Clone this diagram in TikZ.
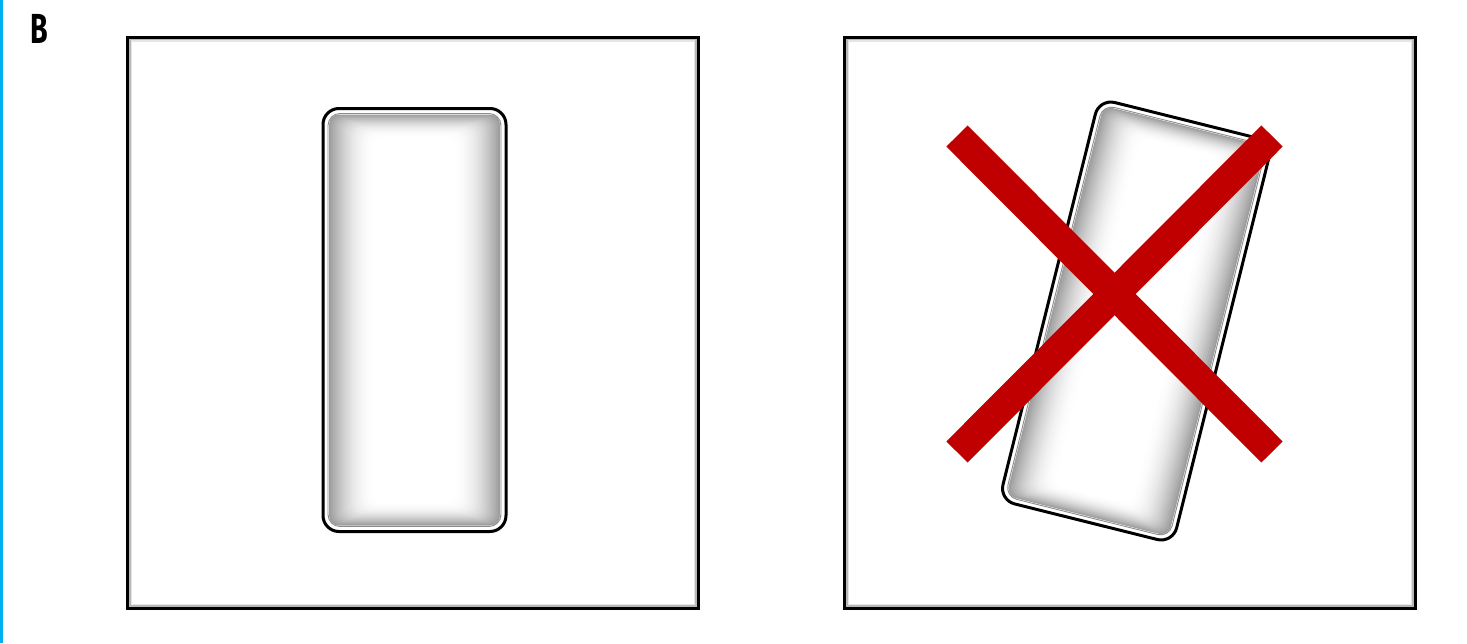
\documentclass[tikz,border=0pt]{standalone}
\usepackage{graphicx}
\usepackage{fontspec}
\setmainfont{Fira Sans}
\definecolor{xred}{RGB}{192,0,0}
\definecolor{edgeblue}{RGB}{0,176,240}
\tikzset{
  frameline/.style={draw=black, line width=3pt},
  frameinner/.style={draw=black!28, line width=1.5pt},
  frameinnertwo/.style={draw=black!10, line width=1.5pt},
  crossbar/.style={draw=xred, line width=30pt, line cap=butt},
  trayedge/.style={draw=black, line width=3pt, rounded corners=16pt},
  trayinner/.style={draw=black!45, line width=0.9pt, rounded corners=12pt},
}
\newcommand{\mytray}{%
  \fill[white, rounded corners=16pt] (-91.5,-211.5) rectangle (91.5,211.5);
  \foreach \i in {0,...,22}{%
    \pgfmathsetmacro{\ix}{6+\i*2.1}%
    \pgfmathsetmacro{\iy}{6+\i*1.05}%
    \pgfmathsetmacro{\lvl}{38*(1-\i/22)^2}%
    \fill[black!\lvl, rounded corners=10pt] (-91.5+\ix,-211.5+\iy) rectangle (91.5-\ix,211.5-\iy);
  }
  \draw[trayinner] (-86.5,-206.5) rectangle (86.5,206.5);
  \draw[trayedge] (-91.5,-211.5) rectangle (91.5,211.5);
}
\begin{document}
\begin{tikzpicture}[x=1pt,y=-1pt]
\useasboundingbox (0,0) rectangle (1467,643);
\fill[white] (0,0) rectangle (1467,643);
% left blue rule
\coordinate (bt) at (1.25,0);
\coordinate (bb) at (1.25,643);
\draw[edgeblue, line width=2.5pt] (bt) -- (bb);
% label
\node[inner sep=0pt, anchor=center] (lab) at (39.5,28.5) {\scalebox{0.68}[1]{\fontsize{42}{42}\selectfont\bfseries B}};
% frames
\draw[frameinnertwo] (131.5,41) rectangle (694.5,604.5);
\draw[frameinner] (129.8,39.3) rectangle (696.2,606.2);
\draw[frameline] (127.5,37) rectangle (698.5,608.5);
\draw[frameinnertwo] (848.5,41) rectangle (1411.5,604.5);
\draw[frameinner] (846.8,39.3) rectangle (1413.2,606.2);
\draw[frameline] (844.5,37) rectangle (1415.5,608.5);
% left tray
\begin{scope}[shift={(414.5,320)}]
\mytray
\end{scope}
% right tray, tilted
\begin{scope}[shift={(1136,321)}, rotate=-14, scale=0.978]
\mytray
\end{scope}
% red cross
\coordinate (c1) at (957,136);
\coordinate (c2) at (1272,452);
\coordinate (c3) at (957,452);
\coordinate (c4) at (1272,136);
\draw[crossbar] (c1) -- (c2);
\draw[crossbar] (c3) -- (c4);
\end{tikzpicture}
\end{document}
